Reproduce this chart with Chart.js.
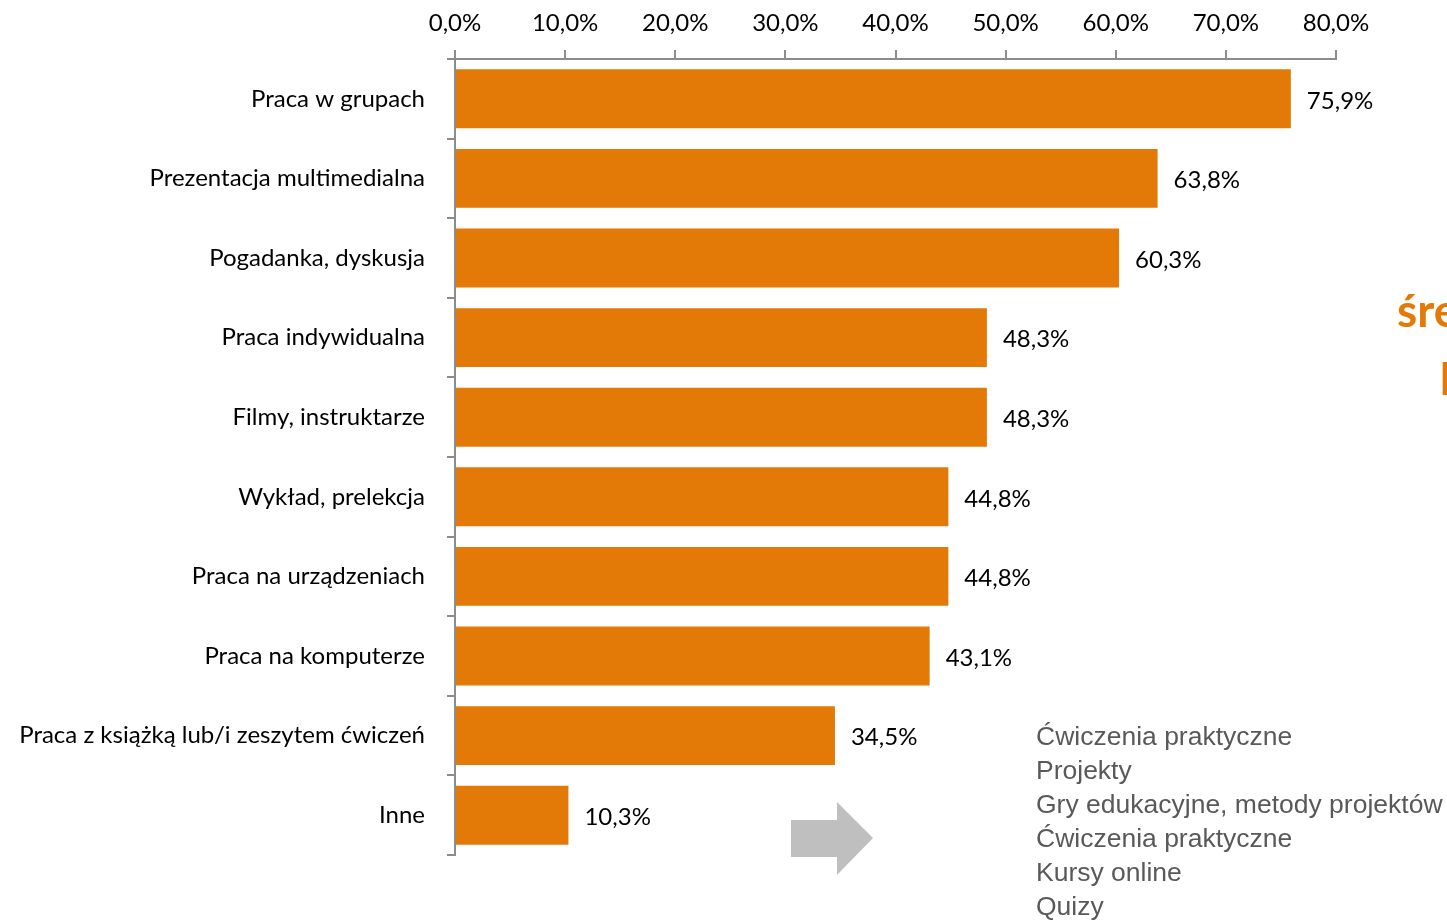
<!DOCTYPE html>
<html>
<head>
<meta charset="utf-8">
<script src="https://cdn.jsdelivr.net/npm/chart.js@4.4.0/dist/chart.umd.min.js"></script>
<style>
  html, body { margin: 0; padding: 0; background: #fff; overflow: hidden; }
  #wrap { width: 1447px; height: 920px; position: relative; }
</style>
</head>
<body>
<div id="wrap"><canvas id="myChart" width="1447" height="920"></canvas></div>
<script>
const labels = [
  'Praca w grupach',
  'Prezentacja multimedialna',
  'Pogadanka, dyskusja',
  'Praca indywidualna',
  'Filmy, instruktarze',
  'Wykład, prelekcja',
  'Praca na urządzeniach',
  'Praca na komputerze',
  'Praca z książką lub/i zeszytem ćwiczeń',
  'Inne'
]
const values = [75.9, 63.8, 60.3, 48.3, 48.3, 44.8, 44.8, 43.1, 34.5, 10.3]
const tickValues = [0, 10, 20, 30, 40, 50, 60, 70, 80]
const sideList = [
  'Ćwiczenia praktyczne',
  'Projekty',
  'Gry edukacyjne, metody projektów',
  'Ćwiczenia praktyczne',
  'Kursy online',
  'Quizy'
]

const orange = '#E37906'
const axisGrey = '#8c8c8c'
const font = 'Lato, "Open Sans", sans-serif'

const pct = v => v.toFixed(1).replace('.', ',') + '%'

// etykiety wartości i dodatki na płótnie
const extras = {
  id: 'extras',
  afterDatasetsDraw(chart) {
    const ctx = chart.ctx
    const meta = chart.getDatasetMeta(0)
    ctx.save()
    ctx.font = '24px ' + font
    ctx.fillStyle = '#000'
    ctx.textBaseline = 'middle'
    ctx.textAlign = 'left'
    meta.data.forEach((bar, i) => {
      ctx.fillText(pct(values[i]), bar.x + 16, bar.y + 2)
    })

    // strzałka
    ctx.fillStyle = '#BFBFBF'
    ctx.beginPath()
    ctx.moveTo(791, 820)
    ctx.lineTo(837, 820)
    ctx.lineTo(837, 802)
    ctx.lineTo(873, 838)
    ctx.lineTo(837, 875)
    ctx.lineTo(837, 857)
    ctx.lineTo(791, 857)
    ctx.closePath()
    ctx.fill()

    // lista po prawej
    ctx.font = '26.5px "Liberation Sans", Arial, sans-serif'
    ctx.fillStyle = '#595959'
    ctx.textBaseline = 'middle'
    sideList.forEach((t, i) => {
      ctx.fillText(t, 1036, 738 + i * 34)
    })

    // ucięty napis
    ctx.font = 'bold 46px ' + font
    ctx.fillStyle = orange
    ctx.textBaseline = 'alphabetic'
    ctx.fillText('średnio', 1397, 327)
    ctx.fillText('P', 1439, 395)
    ctx.restore()
  }
}

const data = {
  labels: labels,
  datasets: [{
    data: values,
    backgroundColor: orange,
    borderWidth: 0,
    barPercentage: 0.74,
    categoryPercentage: 1
  }]
}

const config = {
  type: 'bar',
  data: data,
  options: {
    indexAxis: 'y',
    responsive: false,
    animation: false,
    layout: { padding: { left: 0, right: 111, top: 0, bottom: 65 } },
    plugins: {
      legend: { display: false },
      tooltip: { enabled: false }
    },
    scales: {
      x: {
        position: 'top',
        min: 0,
        max: 80,
        afterBuildTicks: s => { s.ticks = tickValues.map(v => ({ value: v })) },
        afterFit: s => { s.height = 59 },
        ticks: {
          callback: v => pct(v),
          color: '#000',
          font: { family: font, size: 24 },
          padding: 12
        },
        grid: {
          drawOnChartArea: false,
          drawTicks: true,
          tickLength: 9,
          color: axisGrey,
          lineWidth: 2
        },
        border: { color: axisGrey, width: 2 }
      },
      y: {
        afterFit: s => { s.width = 455 },
        ticks: {
          color: '#000',
          font: { family: font, size: 24 },
          padding: 22
        },
        grid: {
          drawOnChartArea: false,
          drawTicks: true,
          tickLength: 8,
          offset: true,
          color: axisGrey,
          lineWidth: 2
        },
        border: { color: axisGrey, width: 2 }
      }
    }
  },
  plugins: [extras]
}

const myChart = new Chart(document.getElementById('myChart'), config)
</script>
</body>
</html>
